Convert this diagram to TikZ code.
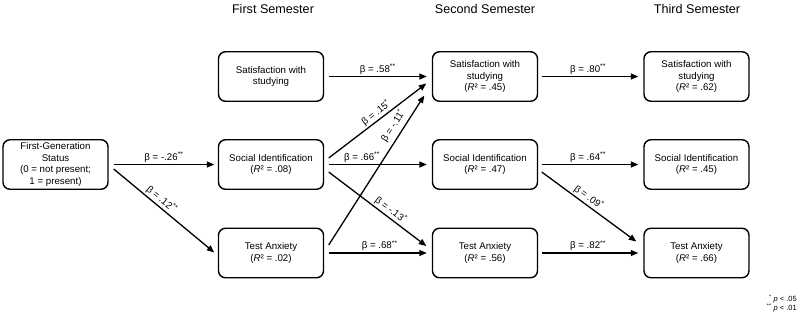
\documentclass[tikz,border=0pt]{standalone}
\usepackage{fontspec}
\setmainfont{Liberation Sans}
\usetikzlibrary{arrows.meta}
\begin{document}
\begin{tikzpicture}[x=1pt,y=-1pt,
  box/.style={draw, line width=1.4pt, rounded corners=7pt, minimum width=105pt, minimum height=49.5pt, align=center, inner sep=0pt, font=\fontsize{9.7}{11.7}\selectfont},
  arr/.style={line width=1.3pt, -{Triangle[length=7.5pt,width=6pt]}},
  lab/.style={font=\fontsize{9.7}{11.7}\selectfont, inner sep=1.5pt},
  hdr/.style={font=\fontsize{12.6}{15}\selectfont, anchor=base}]
\fill[white] (0,0) rectangle (800,316);
\useasboundingbox (0,0) rectangle (800,316);

% headers
\node[hdr] (h1) at (273,13.5) {First Semester};
\node[hdr] (h2) at (485,13.5) {Second Semester};
\node[hdr] (h3) at (697,13.5) {Third Semester};

% boxes
\node[box] (fg) at (55.5,164.5) {First-Generation\\Status\\(0 = not present;\\1 = present)};
\node[box] (ss1) at (271,76.5) {Satisfaction with\\studying};
\node[box] (si1) at (271,164.5) {Social Identification\\(\textit{R}² = .08)};
\node[box] (ta1) at (271,253) {Test Anxiety\\(\textit{R}² = .02)};
\node[box] (ss2) at (485,76.5) {Satisfaction with\\studying\\(\textit{R}² = .45)};
\node[box] (si2) at (485,164.5) {Social Identification\\(\textit{R}² = .47)};
\node[box] (ta2) at (485,253) {Test Anxiety\\(\textit{R}² = .56)};
\node[box] (ss3) at (696.5,76.5) {Satisfaction with\\studying\\(\textit{R}² = .62)};
\node[box] (si3) at (696.5,164.5) {Social Identification\\(\textit{R}² = .45)};
\node[box] (ta3) at (696.5,253) {Test Anxiety\\(\textit{R}² = .66)};

% arrows
\draw[arr] ([shift={(5,0)}]fg.east) -- node[lab,above,pos=0.5] {β = -.26\textsuperscript{**}} ([shift={(-3.5,0)}]si1.west);
\draw[arr] ([shift={(5,4.5)}]fg.east) -- node[lab,above,sloped,pos=0.43] {β = .12\textsuperscript{**}} ([shift={(-3.5,-0.5)}]ta1.west);

\draw[arr] ([shift={(4.5,0)}]ss1.east) -- node[lab,above,pos=0.5] {β = .58\textsuperscript{**}} ([shift={(-5,0)}]ss2.west);
\draw[arr] ([shift={(4.5,-6.5)}]si1.east) -- node[lab,above,sloped,pos=0.53] {β = .15\textsuperscript{*}} ([shift={(-5.5,7)}]ss2.west);
\draw[arr] ([shift={(4.5,-8)}]ta1.east) -- node[lab,above=2.5pt,sloped,pos=0.76] {β = -.11\textsuperscript{*}} ([shift={(-7.5,19)}]ss2.west);
\draw[arr] ([shift={(4.5,0)}]si1.east) -- node[lab,above,pos=0.34] {β = .66\textsuperscript{**}} ([shift={(-5,0)}]si2.west);
\draw[arr] ([shift={(4.5,7.5)}]si1.east) -- node[lab,above,sloped,pos=0.59] {β = -.13\textsuperscript{*}} ([shift={(-5.5,-7)}]ta2.west);
\draw[arr] ([shift={(4.5,0)}]ta1.east) -- node[lab,above,pos=0.52] {β = .68\textsuperscript{**}} ([shift={(-5,0)}]ta2.west);

\draw[arr] ([shift={(3.5,0)}]ss2.east) -- node[lab,above,pos=0.48] {β = .80\textsuperscript{**}} ([shift={(-5,0)}]ss3.west);
\draw[arr] ([shift={(3.5,0)}]si2.east) -- node[lab,above,pos=0.48] {β = .64\textsuperscript{**}} ([shift={(-5,0)}]si3.west);
\draw[arr] ([shift={(3.5,7.5)}]si2.east) -- node[lab,above,sloped,pos=0.45] {β = .09\textsuperscript{*}} ([shift={(-7,-11.5)}]ta3.west);
\draw[arr] ([shift={(3.5,0)}]ta2.east) -- node[lab,above,pos=0.48] {β = .82\textsuperscript{**}} ([shift={(-5,0)}]ta3.west);

% footnote
\node[anchor=east, align=right, inner sep=0pt, font=\fontsize{7.5}{9}\selectfont] (fn) at (797,303) {\textsuperscript{*} \textit{p} < .05\\\textsuperscript{**} \textit{p} < .01};
\end{tikzpicture}
\end{document}
